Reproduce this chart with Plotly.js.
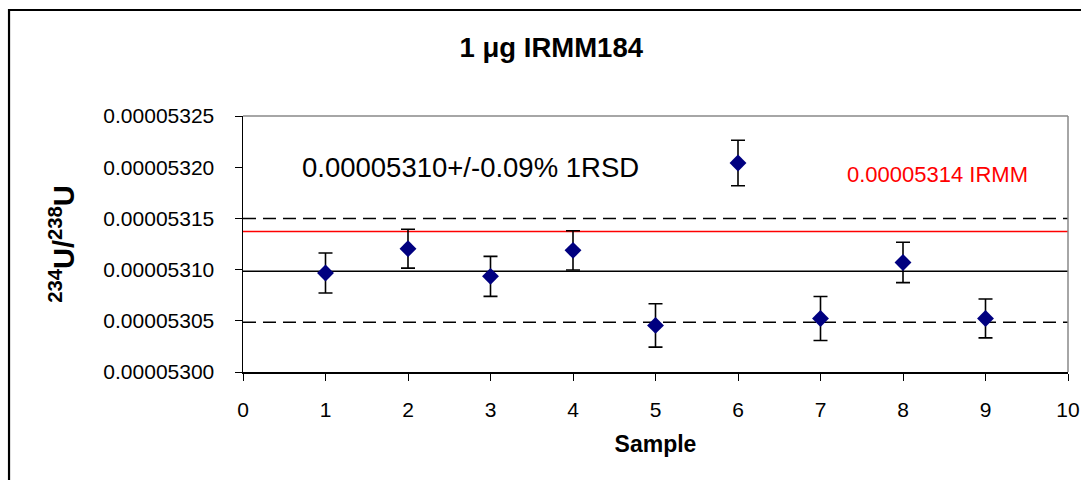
<!DOCTYPE html>
<html>
<head>
<meta charset="utf-8">
<script src="https://cdn.plot.ly/plotly-3.0.1.min.js"></script>
<style>html,body{margin:0;padding:0;background:#fff;}#chart{width:1081px;height:480px;}</style>
</head>
<body>
<div id="chart"></div>
<script>
// Data
const samples = [1, 2, 3, 4, 5, 6, 7, 8, 9];
const ratios = [0.0000530967, 0.0000531204, 0.0000530934, 0.0000531188, 0.0000530455, 0.0000532041, 0.0000530523, 0.0000531070, 0.0000530523];
const ratioErrors = [0.0000000195, 0.0000000190, 0.0000000195, 0.0000000192, 0.0000000212, 0.0000000222, 0.0000000215, 0.0000000197, 0.0000000190];
const meanValue = 0.0000530985;
const upperValue = 0.0000531500;
const lowerValue = 0.0000530485;
const irmmValue = 0.0000531373;
const lineX = [0, 10];
const meanLabel = "0.00005310+/-0.09% 1RSD";
const irmmLabel = "0.00005314 IRMM";

const font = "Liberation Sans, Arial, sans-serif";

const traces = [
  {x: lineX, y: [meanValue, meanValue], mode: 'lines', line: {color: '#000', width: 1.5}, hoverinfo: 'skip', showlegend: false},
  {x: lineX, y: [upperValue, upperValue], mode: 'lines', line: {color: '#000', width: 1.5, dash: '13px,7px'}, hoverinfo: 'skip', showlegend: false},
  {x: lineX, y: [lowerValue, lowerValue], mode: 'lines', line: {color: '#000', width: 1.5, dash: '13px,7px'}, hoverinfo: 'skip', showlegend: false},
  {x: lineX, y: [irmmValue, irmmValue], mode: 'lines', line: {color: '#ff0000', width: 1.5}, hoverinfo: 'skip', showlegend: false},
  {x: samples, y: ratios, mode: 'markers', showlegend: false,
   marker: {symbol: 'diamond', size: 13, color: '#000080'},
   error_y: {type: 'data', array: ratioErrors, visible: true, color: '#000', thickness: 1.6, width: 7}}
];

const layout = {
  width: 1081, height: 480,
  margin: {l: 243, r: 13, t: 116, b: 108},
  paper_bgcolor: '#fff', plot_bgcolor: '#fff',
  font: {family: font, color: '#000'},
  title: {text: '<b>1 μg IRMM184</b>', font: {size: 27.5, family: font, color: '#000'},
          x: 0.51, xref: 'container', y: 0.902, yref: 'container', yanchor: 'middle', xanchor: 'center'},
  xaxis: {range: [0, 10], dtick: 1, tick0: 0, showgrid: false, zeroline: false,
          showline: true, linecolor: '#000', linewidth: 1.5, ticks: 'outside', ticklen: 7, tickcolor: '#000', tickwidth: 1,
          tickfont: {size: 21, family: font}, ticklabelstandoff: 11,
          title: {text: '<b>Sample</b>', font: {size: 23, family: font}, standoff: 16}},
  yaxis: {range: [0.000053, 0.00005325], dtick: 0.00000005, tick0: 0.000053, tickformat: '.8f',
          showgrid: false, zeroline: false,
          showline: true, linecolor: '#000', linewidth: 1.5, ticks: 'outside', ticklen: 7, tickcolor: '#000', tickwidth: 1,
          tickfont: {size: 21, family: font}, ticklabelstandoff: 16,
          title: {text: '<b><sup>234</sup>U/<sup>238</sup>U</b>', font: {size: 29, family: font}, standoff: 20}},
  annotations: [
    {x: 0.69, y: 0.00005320, xref: 'x', yref: 'y', text: meanLabel, showarrow: false, xanchor: 'left', yanchor: 'middle',
     font: {size: 27.5, family: font, color: '#000'}},
    {x: 7.3, y: 0.0000531927, xref: 'x', yref: 'y', text: irmmLabel, showarrow: false, xanchor: 'left', yanchor: 'middle',
     font: {size: 22, family: font, color: '#ff0000'}}
  ],
  shapes: [
    {type: 'line', xref: 'paper', yref: 'paper', x0: 0, x1: 1, y0: 1, y1: 1, line: {color: '#888', width: 1.5}},
    {type: 'line', xref: 'paper', yref: 'paper', x0: 1, x1: 1, y0: 0, y1: 1, line: {color: '#888', width: 1.5}},
    {type: 'rect', xref: 'paper', yref: 'paper', x0: -0.2836, x1: 1.05, y0: -0.5, y1: 1.414, line: {color: '#000', width: 2.2}, fillcolor: 'rgba(0,0,0,0)', layer: 'above'}
  ]
};

Plotly.newPlot('chart', traces, layout, {displayModeBar: false, staticPlot: true});
</script>
</body>
</html>
